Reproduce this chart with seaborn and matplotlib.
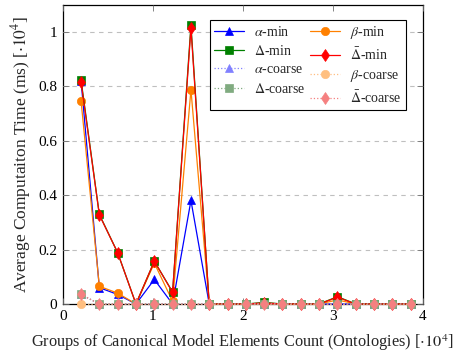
import matplotlib
matplotlib.use("Agg")
import matplotlib.pyplot as plt
import seaborn as sns
import pandas as pd

x_vals = [0.204, 0.407, 0.611, 0.814, 1.018, 1.221, 1.425, 1.628, 1.832, 2.035,
          2.239, 2.442, 2.646, 2.849, 3.053, 3.256, 3.460, 3.663, 3.867]
alpha_min = [0.82, 0.06, 0.035, 0, 0.09, 0, 0.38, 0, 0, 0, 0, 0, 0, 0, 0, 0, 0, 0, 0]
beta_min = [0.745, 0.065, 0.04, 0, 0.15, 0.01, 0.786, 0, 0, 0, 0, 0, 0, 0, 0.015, 0, 0, 0, 0]
delta_min = [0.822, 0.329, 0.188, 0, 0.157, 0.044, 1.024, 0, 0, 0, 0.006, 0, 0, 0, 0.027, 0, 0, 0, 0]
dbar_min = [0.815, 0.327, 0.188, 0, 0.157, 0.043, 1.012, 0, 0, 0, 0.004, 0, 0, 0, 0.025, 0, 0, 0, 0]
alpha_coarse = [0.035, 0, 0, 0, 0, 0, 0, 0, 0, 0, 0, 0, 0, 0, 0, 0, 0, 0, 0]
beta_coarse = [0, 0, 0, 0, 0, 0, 0, 0, 0, 0, 0, 0, 0, 0, 0, 0, 0, 0, 0]
delta_coarse = [0.035, 0, 0, 0, 0, 0, 0, 0, 0, 0, 0, 0, 0, 0, 0, 0, 0, 0, 0]
dbar_coarse = [0.035, 0, 0, 0, 0, 0, 0, 0, 0, 0, 0, 0, 0, 0, 0, 0, 0, 0, 0]
y_ticks = [0, 0.2, 0.4, 0.6, 0.8, 1]
y_tick_labels = ["0", "0.2", "0.4", "0.6", "0.8", "1"]
x_ticks = [0, 1, 2, 3, 4]

sns.set_theme(style="white")
plt.rcParams['font.family'] = ['Liberation Serif', 'DejaVu Serif']
plt.rcParams['mathtext.fontset'] = 'stix'

fig = plt.figure(figsize=(4.56, 3.58), dpi=100)
ax = fig.add_axes([0.1375, 0.1508, 0.7895, 0.835])

series = [
    ("$\\alpha$-min", alpha_min, "#0000ff", "^", "-", 6.0),
    ("$\\beta$-min", beta_min, "#ff8000", "o", "-", 6.0),
    ("$\\Delta$-min", delta_min, "#008000", "s", "-", 5.5),
    ("$\\bar{\\Delta}$-min", dbar_min, "#ff0000", "d", "-", 6.0),
    ("$\\alpha$-coarse", alpha_coarse, "#8080ff", "^", ":", 6.0),
    ("$\\beta$-coarse", beta_coarse, "#ffbf80", "o", ":", 6.0),
    ("$\\Delta$-coarse", delta_coarse, "#80ab80", "s", ":", 5.5),
    ("$\\bar{\\Delta}$-coarse", dbar_coarse, "#f58080", "d", ":", 6.0),
]

for label, vals, color, marker, ls, ms in series:
    df = pd.DataFrame({"x": x_vals, "y": vals})
    sns.lineplot(data=df, x="x", y="y", ax=ax, color=color, marker=marker,
                 linestyle=ls, linewidth=0.9, markersize=ms,
                 markeredgecolor=color, markeredgewidth=0.5, label=label,
                 errorbar=None, sort=False, clip_on=False)

ax.set_xlim(0, 4)
ax.set_ylim(0, 1.097)
ax.set_xticks(x_ticks)
ax.set_xticklabels([str(t) for t in x_ticks])
ax.set_yticks(y_ticks)
ax.set_yticklabels(y_tick_labels)
ax.yaxis.grid(True, linestyle=(0, (4, 4)), color="#bfbfbf", linewidth=0.8)
ax.xaxis.grid(False)
ax.set_axisbelow(True)
for s in ax.spines.values():
    s.set_color("black")
    s.set_linewidth(0.9)
    s.set_zorder(0.5)
ax.tick_params(axis="both", which="both", direction="in", length=4, width=0.6,
               color="#707070", top=True, right=True, bottom=True, left=True,
               labelsize=11, colors="#707070", labelcolor="black", pad=4)

ax.set_xlabel("Groups of Canonical Model Elements Count (Ontologies) [$\\cdot10^4$]",
              fontsize=11.8, labelpad=7)
ax.set_ylabel("Average Computaiton Time (ms) [$\\cdot10^4$]", fontsize=12.5, labelpad=4)

h, l = ax.get_legend_handles_labels()
order = [0, 2, 4, 6, 1, 3, 5, 7]
leg = ax.legend([h[i] for i in order], [l[i] for i in order], ncol=2,
                loc="upper right", bbox_to_anchor=(0.972, 0.975), fontsize=10,
                frameon=True, fancybox=False, edgecolor="black", framealpha=1,
                handlelength=2.2, columnspacing=0.3, labelspacing=0.38,
                handletextpad=0.7, borderpad=0.3)
leg.get_frame().set_linewidth(0.8)
leg.set_zorder(5)

fig.savefig("out.png", dpi=100)
